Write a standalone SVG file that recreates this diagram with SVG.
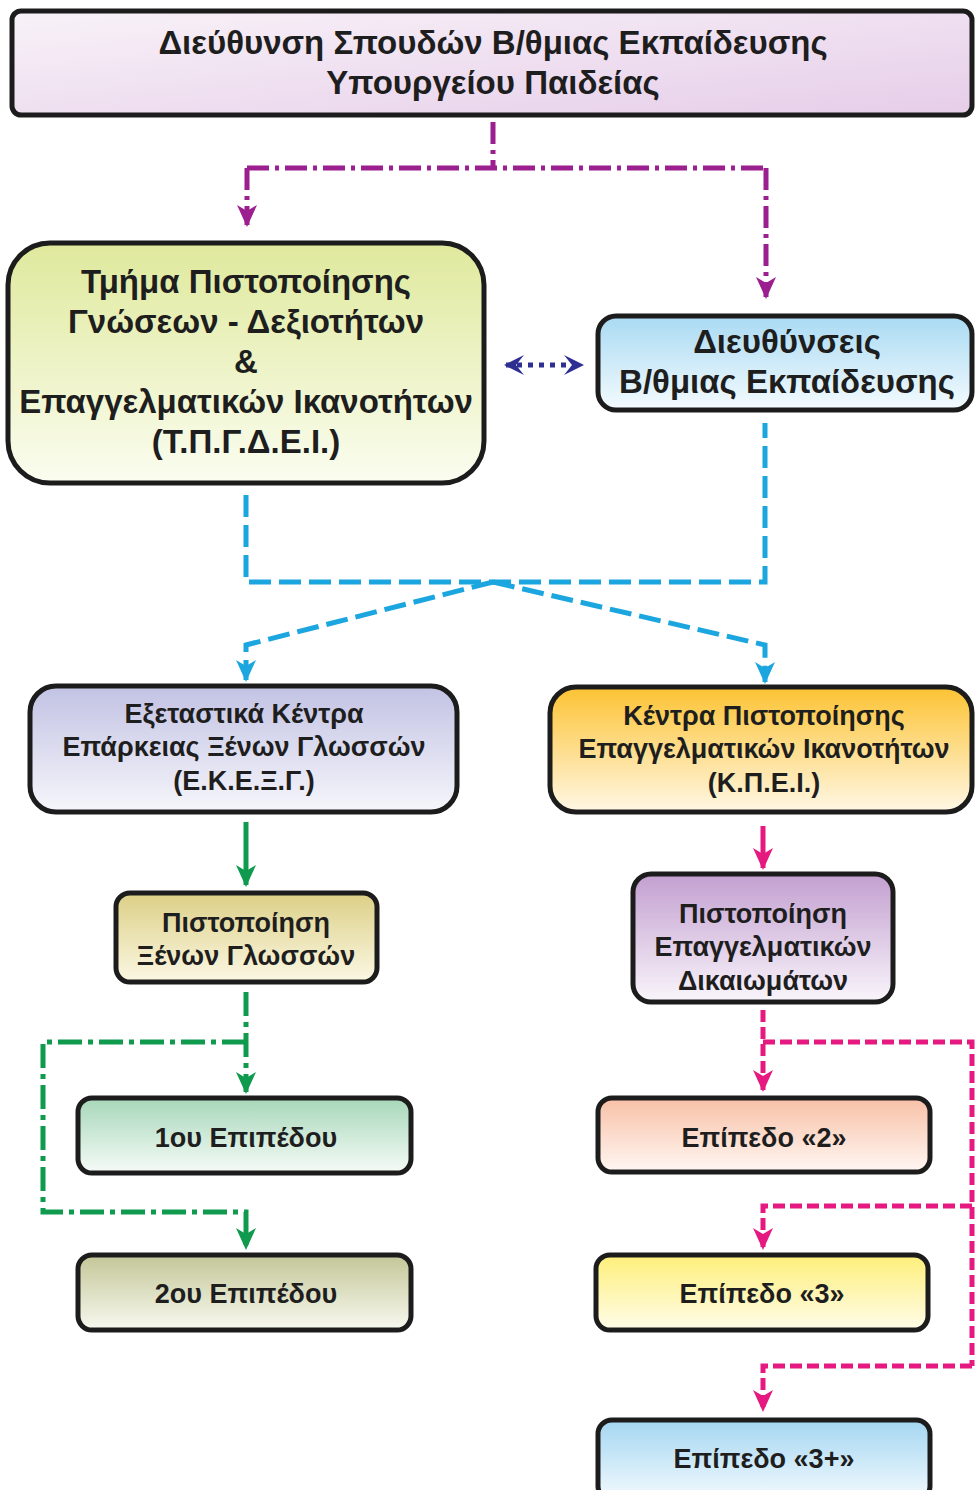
<svg xmlns="http://www.w3.org/2000/svg" width="975" height="1490" viewBox="0 0 975 1490">
<defs>
<linearGradient id="gTop" x1="0" y1="0" x2="1" y2="1"><stop offset="0" stop-color="#f8f2f8"/><stop offset="1" stop-color="#e6cde9"/></linearGradient>
<linearGradient id="gTp" x1="0" y1="0" x2="0" y2="1"><stop offset="0" stop-color="#dfe99c"/><stop offset="1" stop-color="#fbfdf0"/></linearGradient>
<linearGradient id="gDi" x1="0" y1="0" x2="0" y2="1"><stop offset="0" stop-color="#a9daf3"/><stop offset="1" stop-color="#f4fbfe"/></linearGradient>
<linearGradient id="gEk" x1="0" y1="0" x2="0" y2="1"><stop offset="0" stop-color="#c2c2e4"/><stop offset="1" stop-color="#f6f6fb"/></linearGradient>
<linearGradient id="gKp" x1="0" y1="0" x2="0" y2="1"><stop offset="0" stop-color="#fcc232"/><stop offset="1" stop-color="#fff8e6"/></linearGradient>
<linearGradient id="gPx" x1="0" y1="0" x2="0" y2="1"><stop offset="0" stop-color="#dccf86"/><stop offset="1" stop-color="#fbf8e4"/></linearGradient>
<linearGradient id="gPe" x1="0" y1="0" x2="0" y2="1"><stop offset="0" stop-color="#c39fd0"/><stop offset="1" stop-color="#f9f5fb"/></linearGradient>
<linearGradient id="g1" x1="0" y1="0" x2="0" y2="1"><stop offset="0" stop-color="#a6d7b9"/><stop offset="1" stop-color="#f6fbf7"/></linearGradient>
<linearGradient id="g2o" x1="0" y1="0" x2="0" y2="1"><stop offset="0" stop-color="#c3c697"/><stop offset="1" stop-color="#f8f9f0"/></linearGradient>
<linearGradient id="gE2" x1="0" y1="0" x2="0" y2="1"><stop offset="0" stop-color="#f8c0a6"/><stop offset="1" stop-color="#fff7f3"/></linearGradient>
<linearGradient id="gE3" x1="0" y1="0" x2="0" y2="1"><stop offset="0" stop-color="#fdef79"/><stop offset="1" stop-color="#fffcea"/></linearGradient>
<linearGradient id="gE3p" x1="0" y1="0" x2="0" y2="1"><stop offset="0" stop-color="#a4d6f1"/><stop offset="1" stop-color="#f3fafe"/></linearGradient>
<marker id="aMag" markerUnits="userSpaceOnUse" markerWidth="22" markerHeight="22" viewBox="0 0 22 20" refX="20" refY="10" orient="auto"><path d="M0,0 L22,10 L0,20 L6,10 Z" fill="#9b1f8f"/></marker>
<marker id="aCy" markerUnits="userSpaceOnUse" markerWidth="22" markerHeight="22" viewBox="0 0 22 20" refX="20" refY="10" orient="auto"><path d="M0,0 L22,10 L0,20 L6,10 Z" fill="#1ba6df"/></marker>
<marker id="aGr" markerUnits="userSpaceOnUse" markerWidth="22" markerHeight="22" viewBox="0 0 22 20" refX="20" refY="10" orient="auto"><path d="M0,0 L22,10 L0,20 L6,10 Z" fill="#0f9a4e"/></marker>
<marker id="aPk" markerUnits="userSpaceOnUse" markerWidth="22" markerHeight="22" viewBox="0 0 22 20" refX="20" refY="10" orient="auto"><path d="M0,0 L22,10 L0,20 L6,10 Z" fill="#e5197f"/></marker>
<marker id="aBl" markerUnits="userSpaceOnUse" markerWidth="22" markerHeight="22" viewBox="0 0 22 20" refX="18" refY="10" orient="auto-start-reverse"><path d="M0,0 L20,10 L0,20 L8,10 Z" fill="#2d3091"/></marker>
</defs>
<style>
.box{stroke:#1c1c1c;stroke-width:5}
text{font-family:"Liberation Sans",Arial,sans-serif;font-weight:bold;fill:#1e1e1e;text-anchor:middle}
.t31{font-size:33px}
.t27{font-size:27px}
.c{fill:none;stroke-width:5}
</style>
<g id="connectors">
<path class="c" d="M493,122 V168 M247,168 H766" stroke="#9b1f8f" stroke-dasharray="22 6 4 6"/>
<path class="c" d="M247,168 V225" stroke="#9b1f8f" stroke-dasharray="22 6 4 6" marker-end="url(#aMag)"/>
<path class="c" d="M766,168 V297" stroke="#9b1f8f" stroke-dasharray="22 6 4 6" marker-end="url(#aMag)"/>
<path class="c" d="M506,365 H582" stroke="#2d3091" stroke-dasharray="5 6" marker-start="url(#aBl)" marker-end="url(#aBl)"/>
<path class="c" d="M246,495 V582 H765 V423" stroke="#1ba6df" stroke-dasharray="22 8"/>
<path class="c" d="M493,582 L246,645 V680" stroke="#1ba6df" stroke-dasharray="22 8" marker-end="url(#aCy)"/>
<path class="c" d="M493,582 L765,645 V682" stroke="#1ba6df" stroke-dasharray="22 8" marker-end="url(#aCy)"/>
<path class="c" d="M246,822 V885" stroke="#0f9a4e" marker-end="url(#aGr)"/>
<path class="c" d="M246,992 V1092" stroke="#0f9a4e" stroke-dasharray="24 6 5 6" marker-end="url(#aGr)"/>
<path class="c" d="M246,1042 H43 V1212 H246 V1248" stroke="#0f9a4e" stroke-dasharray="24 6 5 6" marker-end="url(#aGr)"/>
<path class="c" d="M763,826 V868" stroke="#e5197f" marker-end="url(#aPk)"/>
<path class="c" d="M763,1010 V1090" stroke="#e5197f" stroke-dasharray="12 5" marker-end="url(#aPk)"/>
<path class="c" d="M763,1042 H972 V1366" stroke="#e5197f" stroke-dasharray="12 5"/>
<path class="c" d="M972,1206 H763 V1248" stroke="#e5197f" stroke-dasharray="12 5" marker-end="url(#aPk)"/>
<path class="c" d="M972,1366 H763 V1410" stroke="#e5197f" stroke-dasharray="12 5" marker-end="url(#aPk)"/>
</g>
<g id="n-top">
<rect class="box" x="12" y="11" width="960" height="104" rx="9" fill="url(#gTop)"/>
<text class="t31" x="493" y="54">Διεύθυνση Σπουδών Β/θμιας Εκπαίδευσης</text>
<text class="t31" x="493" y="94">Υπουργείου Παιδείας</text>
</g>
<g id="n-tpgdei">
<rect class="box" x="8" y="243" width="476" height="240" rx="42" fill="url(#gTp)"/>
<text class="t31" x="246" y="293">Τμήμα Πιστοποίησης</text>
<text class="t31" x="246" y="333">Γνώσεων - Δεξιοτήτων</text>
<text class="t31" x="246" y="373">&amp;</text>
<text class="t31" x="246" y="413">Επαγγελματικών Ικανοτήτων</text>
<text class="t31" x="246" y="453">(Τ.Π.Γ.Δ.Ε.Ι.)</text>
</g>
<g id="n-dieuth">
<rect class="box" x="598" y="316" width="374" height="94" rx="18" fill="url(#gDi)"/>
<text class="t31" x="787" y="353">Διευθύνσεις</text>
<text class="t31" x="787" y="393">Β/θμιας Εκπαίδευσης</text>
</g>
<g id="n-ekexg">
<rect class="box" x="30" y="686" width="427" height="126" rx="26" fill="url(#gEk)"/>
<text class="t27" x="244" y="723">Εξεταστικά Κέντρα</text>
<text class="t27" x="244" y="756">Επάρκειας Ξένων Γλωσσών</text>
<text class="t27" x="244" y="790">(Ε.Κ.Ε.Ξ.Γ.)</text>
</g>
<g id="n-kpei">
<rect class="box" x="550" y="687" width="422" height="125" rx="26" fill="url(#gKp)"/>
<text class="t27" x="764" y="725">Κέντρα Πιστοποίησης</text>
<text class="t27" x="764" y="758">Επαγγελματικών Ικανοτήτων</text>
<text class="t27" x="764" y="792">(Κ.Π.Ε.Ι.)</text>
</g>
<g id="n-pxg">
<rect class="box" x="116" y="893" width="261" height="89" rx="14" fill="url(#gPx)"/>
<text class="t27" x="246" y="932">Πιστοποίηση</text>
<text class="t27" x="246" y="965">Ξένων Γλωσσών</text>
</g>
<g id="n-ped">
<rect class="box" x="633" y="874" width="260" height="128" rx="18" fill="url(#gPe)"/>
<text class="t27" x="763" y="923">Πιστοποίηση</text>
<text class="t27" x="763" y="956">Επαγγελματικών</text>
<text class="t27" x="763" y="990">Δικαιωμάτων</text>
</g>
<g id="n-1ou">
<rect class="box" x="78" y="1098" width="333" height="75" rx="14" fill="url(#g1)"/>
<text class="t27" x="246" y="1147">1ου Επιπέδου</text>
</g>
<g id="n-2ou">
<rect class="box" x="78" y="1255" width="333" height="75" rx="14" fill="url(#g2o)"/>
<text class="t27" x="246" y="1303">2ου Επιπέδου</text>
</g>
<g id="n-e2">
<rect class="box" x="598" y="1098" width="332" height="74" rx="14" fill="url(#gE2)"/>
<text class="t27" x="764" y="1147">Επίπεδο «2»</text>
</g>
<g id="n-e3">
<rect class="box" x="596" y="1255" width="332" height="75" rx="14" fill="url(#gE3)"/>
<text class="t27" x="762" y="1303">Επίπεδο «3»</text>
</g>
<g id="n-e3p">
<rect class="box" x="598" y="1420" width="332" height="80" rx="14" fill="url(#gE3p)"/>
<text class="t27" x="764" y="1468">Επίπεδο «3+»</text>
</g>
</svg>
